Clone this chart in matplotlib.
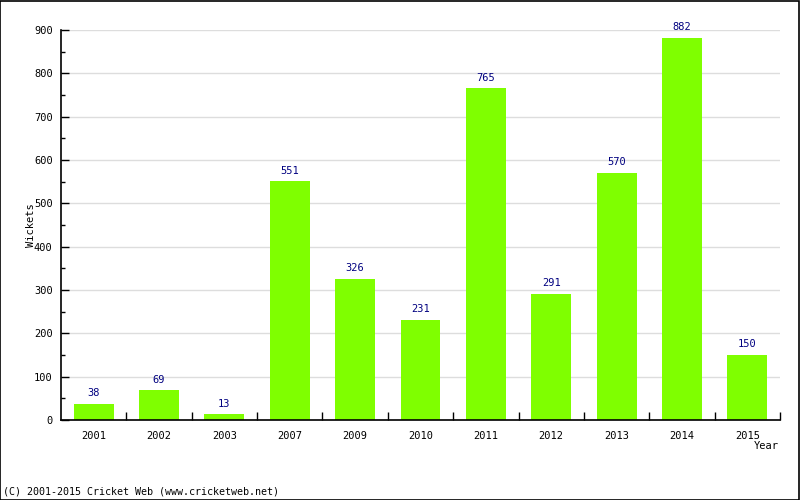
import matplotlib
matplotlib.use("Agg")
import matplotlib.pyplot as plt
import numpy as np

years = ["2001", "2002", "2003", "2007", "2009", "2010", "2011", "2012", "2013", "2014", "2015"]
wickets = [38, 69, 13, 551, 326, 231, 765, 291, 570, 882, 150]

plt.rcParams['font.family'] = ['DejaVu Sans Mono']
fs = 7.5

fig = plt.figure(figsize=(8, 5), dpi=100)
ax = fig.add_axes([61/800, 80/500, 719/800, 390/500])
x = np.arange(len(years))
ax.bar(x, wickets, width=0.61, color="#7FFF00", zorder=2)
for xi, v in zip(x, wickets):
    ax.annotate(str(v), (xi, v), xytext=(0, 4), textcoords="offset points",
                ha="center", va="bottom", color="#000080", fontsize=fs)

ax.set_xlim(-0.5, len(years) - 0.5)
ax.set_ylim(0, 900)
ax.set_yticks(np.arange(0, 901, 100))
ax.set_yticks(np.arange(50, 900, 100), minor=True)
ax.set_xticks(x)
ax.set_xticklabels(years)
ax.set_xticks(np.arange(0.5, len(years), 1.0), minor=True)
ax.tick_params(axis="x", which="major", length=0, pad=8, labelsize=fs)
ax.tick_params(axis="x", which="minor", length=6, direction="in", width=1)
ax.tick_params(axis="y", which="major", length=6, direction="in", width=1, labelsize=fs, pad=6)
ax.tick_params(axis="y", which="minor", length=3, direction="in", width=1)
ax.grid(axis="y", which="major", color="#dddddd", linewidth=1, zorder=0)
ax.set_axisbelow(True)
for s in ["top", "right"]:
    ax.spines[s].set_visible(False)
for s in ["left", "bottom"]:
    ax.spines[s].set_linewidth(1.2)

ax.set_ylabel("Wickets", fontsize=fs)
ax.yaxis.set_label_coords(-(61 - 36) / 719, 0.5)
fig.text(779/800, 1 - 446/500, "Year", ha="right", va="center", fontsize=fs)
fig.text(3/800, 1 - 491/500, "(C) 2001-2015 Cricket Web (www.cricketweb.net)", ha="left", va="center", fontsize=7.2)

border = plt.Rectangle((0.0005, 0.001), 0.998, 0.997, transform=fig.transFigure, fill=False,
                       edgecolor="black", linewidth=1.2)
fig.patches.append(border)

fig.savefig("out.png", dpi=100)
